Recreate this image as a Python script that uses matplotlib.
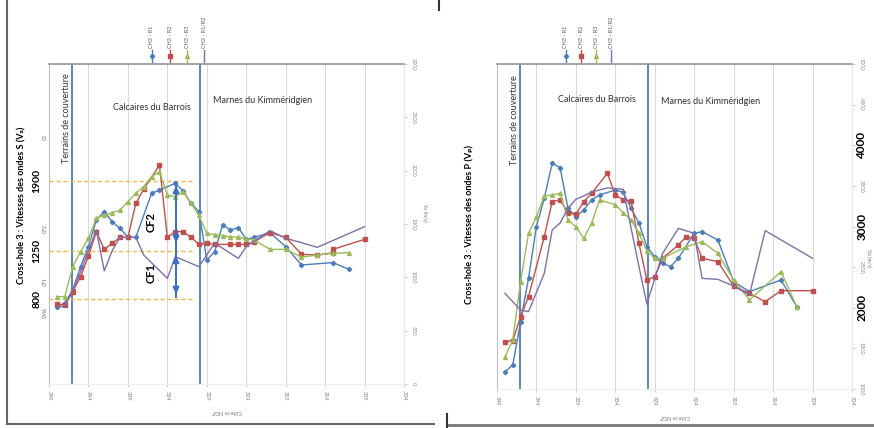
import matplotlib
matplotlib.use("Agg")
import matplotlib.pyplot as plt
from matplotlib.lines import Line2D
from matplotlib.transforms import blended_transform_factory

plt.rcParams['font.family'] = ['Lato', 'DejaVu Sans']

# ---- S waves (left panel) ----
s_r1_z = [348, 347, 346, 345, 344, 343, 342, 341, 340, 339, 338, 336, 335, 333, 332, 331, 330, 329, 328, 327, 326, 325, 324, 323, 321, 319, 317, 313, 311]
s_r1_v = [725, 760, 881, 1100, 1288, 1538, 1616, 1522, 1459, 1375, 1375, 1788, 1819, 1881, 1810, 1694, 1616, 1163, 1241, 1491, 1444, 1466, 1356, 1375, 1419, 1288, 1116, 1138, 1075]

s_r2_z = [348, 347, 346, 345, 344, 343, 342, 341, 340, 339, 338, 337, 335, 334, 333, 332, 331, 330, 329, 328, 326, 325, 324, 323, 321, 319, 317, 315, 313, 313, 309]
s_r2_v = [750, 740, 866, 1006, 1200, 1428, 1263, 1319, 1375, 1375, 1694, 1825, 2053, 1375, 1428, 1428, 1375, 1309, 1319, 1309, 1309, 1309, 1309, 1334, 1419, 1375, 1216, 1209, 1230, 1263, 1356]

s_r3_z = [348, 347, 346, 345, 344, 343, 342, 341, 340, 339, 338, 337, 336, 335, 334, 333, 332, 331, 330, 329, 328, 327, 326, 325, 324, 323, 321, 319, 317, 315, 313, 311]
s_r3_v = [819, 819, 1100, 1241, 1366, 1553, 1584, 1606, 1631, 1709, 1788, 1850, 1944, 1991, 1772, 1756, 1803, 1694, 1580, 1412, 1400, 1390, 1380, 1375, 1360, 1350, 1262, 1262, 1190, 1209, 1225, 1231]

s_r12_z = [348, 347, 346, 345, 344, 343, 342, 341, 340, 339, 338, 337, 334, 333, 330, 328, 326, 325, 324, 321, 319, 317, 315, 309]
s_r12_v = [725, 725, 881, 1050, 1250, 1444, 1060, 1250, 1375, 1375, 1375, 1209, 991, 1194, 1100, 1320, 1225, 1178, 1288, 1438, 1366, 1325, 1281, 1475]

# ---- P waves (right panel) ----
p_r1_z = [348, 347, 346, 345, 344, 343, 342, 341, 340, 339, 338, 337, 336, 334, 333, 332, 331, 330, 329, 328, 327, 326, 324, 323, 321, 319, 317, 313, 311]
p_r1_v = [1213, 1295, 1829, 2362, 3000, 3350, 3778, 3725, 3224, 3121, 3204, 3327, 3388, 3450, 3420, 3224, 3043, 2752, 2629, 2547, 2506, 2609, 2916, 2937, 2834, 2322, 2198, 2342, 2014]

p_r2_z = [348, 347, 346, 345, 343, 342, 341, 340, 339, 338, 337, 335, 334, 333, 332, 331, 330, 329, 328, 326, 325, 324, 323, 321, 319, 317, 315, 313, 309]
p_r2_v = [1583, 1595, 1890, 2137, 2875, 3306, 3327, 3171, 3150, 3306, 3409, 3655, 3388, 3327, 3318, 2793, 2342, 2383, 2609, 2773, 2875, 2855, 2609, 2567, 2268, 2178, 2075, 2210, 2210]

p_r3_z = [348, 347, 346, 345, 344, 343, 342, 341, 340, 339, 338, 337, 336, 334, 333, 332, 331, 330, 329, 328, 325, 323, 321, 319, 317, 313, 311]
p_r3_v = [1390, 1603, 2321, 2916, 3121, 3376, 3388, 3409, 3080, 2998, 2855, 3043, 3327, 3271, 3171, 3080, 2916, 2700, 2609, 2609, 2752, 2814, 2670, 2342, 2096, 2444, 2014]

p_r12_z = [348, 346, 345, 343, 342, 341, 340, 339, 338, 337, 335, 333, 331, 330, 328, 326, 324, 323, 321, 319, 317, 315, 309]
p_r12_v = [2178, 1973, 1952, 2424, 2957, 3043, 3224, 3335, 3376, 3425, 3475, 3458, 2506, 2046, 2670, 2978, 2916, 2362, 2350, 2268, 2157, 2949, 2609]

labels = ['CH3 - R1', 'CH3 - R2', 'CH3 - R3', 'CH3 - R1/R2']
colors = ['#4a7ebb', '#c0504d', '#9bbb59', '#7f6fa8']
markers = ['D', 's', '^', None]
msizes = [2.2, 2.8, 2.8, 0]

x_ticks = [349, 344, 339, 334, 329, 324, 319, 314, 309, 304]
boundaries = [346.1, 329.9]

s_ticks = [0, 500, 1000, 1500, 2000, 2500, 3000]
p_ticks = [1000, 1500, 2000, 2500, 3000, 3500, 4000, 4500, 5000]

s_levels = [1900, 1250, 800]
s_classes = ['CS', 'CF2', 'CF1', 'CMA']
s_class_v = [2316, 1453, 956, 675]
p_levels = [4000, 3000, 2000]


def draw_panel(ax, series, yticks, legend_x, hidden=()):
    for (z, v), lab, c, m, ms in zip(series, labels, colors, markers, msizes):
        ax.plot(z, v, color=c, lw=1, marker=m, ms=ms, label=lab, zorder=3)
    ax.set_xlim(349, 304)
    ax.set_xticks(x_ticks)
    ax.set_xticklabels([str(t) for t in x_ticks], rotation=270, fontsize=4, color='#777777')
    ax.set_ylim(yticks[0], yticks[-1])
    ax.set_yticks(yticks)
    ax.yaxis.tick_right()
    ax.set_yticklabels(['' if t in hidden else str(t) for t in yticks], rotation=270,
                       fontsize=4, color='#888888', va='center')
    ax.tick_params(length=2, color='#cccccc', pad=3)
    ax.grid(axis='x', color='#d9d9d9', lw=0.8)
    ax.set_axisbelow(True)
    for b in boundaries:
        ax.axvline(b, color='#3f6fb0', lw=1.2, zorder=2)
    ax.spines['top'].set_color('#8c8c8c')
    ax.spines['top'].set_linewidth(1.1)
    ax.spines['left'].set_color('#bfbfbf')
    ax.spines['right'].set_color('#e6e6e6')
    ax.spines['bottom'].set_color('#eeeeee')
    ax.text(0.5, -0.085, 'Côte m NGF', transform=ax.transAxes, rotation=180,
            fontsize=4, color='#777777', ha='center', va='center')

    # legend drawn vertically above the plot
    for xa, lab, c, m, ms in zip(legend_x, labels, colors, markers, msizes):
        ax.add_line(Line2D([xa, xa], [1.006, 1.044], transform=ax.transAxes,
                           color=c, lw=1, clip_on=False))
        if m:
            ax.add_line(Line2D([xa], [1.025], transform=ax.transAxes, color=c,
                               marker=m, ms=ms, clip_on=False))
        ax.text(xa, 1.05, lab, transform=ax.transAxes, rotation=90, fontsize=4,
                color='#555555', ha='center', va='bottom')


fig = plt.figure(figsize=(8.74, 4.28), dpi=100)

# left panel: S waves
ax1 = fig.add_axes([0.0561, 0.1028, 0.4062, 0.7477])
draw_panel(ax1, [(s_r1_z, s_r1_v), (s_r2_z, s_r2_v), (s_r3_z, s_r3_v), (s_r12_z, s_r12_v)],
           s_ticks, [0.290, 0.341, 0.389, 0.437])
ax1.hlines(s_levels, 349, 330.5, colors='#f2b84b', linestyles=(0, (3, 2)), lw=1, zorder=2)
ax1.text(346.8, 2494, 'Terrains de couverture', rotation=90, fontsize=6.5, color='#333333', ha='center', va='center')
ax1.text(335.9, 2588, 'Calcaires du Barrois', fontsize=6.5, color='#333333', ha='center', va='center')
ax1.text(321.9, 2662, 'Marnes du Kimméridgien', fontsize=6.5, color='#333333', ha='center', va='center')

# CF1 / CF2 arrows
arrow_kw = dict(arrowstyle='-|>', color='#3a6fc4', lw=1.4, mutation_scale=9)
ax1.plot([332.9, 332.9], [819, 1881], color='#3a6fc4', lw=1.4, zorder=4)
ax1.annotate('', xy=(332.9, 819), xytext=(332.9, 1000), arrowprops=arrow_kw)
ax1.annotate('', xy=(332.9, 1225), xytext=(332.9, 1050), arrowprops=arrow_kw)
ax1.annotate('', xy=(332.9, 1300), xytext=(332.9, 1500), arrowprops=arrow_kw)
ax1.annotate('', xy=(332.9, 1881), xytext=(332.9, 1700), arrowprops=arrow_kw)
ax1.text(336.1, 1040, 'CF1', rotation=90, fontsize=8, fontweight='bold', ha='center', va='center')
ax1.text(336.1, 1520, 'CF2', rotation=90, fontsize=8, fontweight='bold', ha='center', va='center')

tr1 = blended_transform_factory(ax1.transAxes, ax1.transData)
for lv in s_levels:
    ax1.text(-0.034, lv, str(lv), transform=tr1, rotation=90, fontsize=7.5,
             fontweight='bold', ha='center', va='center')
for cl, cv in zip(s_classes, s_class_v):
    ax1.text(-0.011, cv, cl, transform=tr1, rotation=90, fontsize=3.5,
             color='#666666', ha='center', va='center')
fig.text(22 / 874, 1 - 205 / 428, 'Cross-hole 3 : Vitesses des ondes S (Vₛ)', rotation=90,
         fontsize=6.5, fontweight='bold', ha='center', va='center')
fig.text(425 / 874, 1 - 213 / 428, 'Vs (m/s)', rotation=270, fontsize=3.5,
         color='#777777', ha='center', va='center')

# right panel: P waves
ax2 = fig.add_axes([0.5686, 0.0911, 0.4062, 0.7593])
draw_panel(ax2, [(p_r1_z, p_r1_v), (p_r2_z, p_r2_v), (p_r3_z, p_r3_v), (p_r12_z, p_r12_v)],
           p_ticks, [0.194, 0.237, 0.279, 0.321], hidden=p_levels)
ax2.text(346.8, 4311, 'Terrains de couverture', rotation=90, fontsize=6.5, color='#333333', ha='center', va='center')
ax2.text(336.3, 4558, 'Calcaires du Barrois', fontsize=6.5, color='#333333', ha='center', va='center')
ax2.text(321.9, 4533, 'Marnes du Kimméridgien', fontsize=6.5, color='#333333', ha='center', va='center')

tr2 = blended_transform_factory(ax2.transAxes, ax2.transData)
for lv in p_levels:
    ax2.text(1.028, lv, str(lv), transform=tr2, rotation=90, fontsize=8.5,
             fontweight='bold', ha='center', va='center')
fig.text(470 / 874, 1 - 225 / 428, 'Cross-hole 3 : Vitesses des ondes P (Vₚ)', rotation=90,
         fontsize=6.5, fontweight='bold', ha='center', va='center')
fig.text(869 / 874, 1 - 258 / 428, 'Vp (m/s)', rotation=270, fontsize=3.5,
         color='#777777', ha='center', va='center')

# scan frame lines
def fig_line(x0, y0, x1, y1, c='#555555', lw=1.5):
    fig.add_artist(Line2D([x0 / 874, x1 / 874], [1 - y0 / 428, 1 - y1 / 428], color=c, lw=lw))

fig_line(7, 0, 7, 424, '#666666', 1.5)
fig_line(7, 424, 434, 424, '#666666', 1.5)
fig_line(447, 425, 874, 425, '#777777', 2)
fig_line(439, 0, 439, 10, '#333333', 1.5)
fig_line(447, 414, 447, 428, '#333333', 1.5)

fig.savefig('out.png', dpi=100)
